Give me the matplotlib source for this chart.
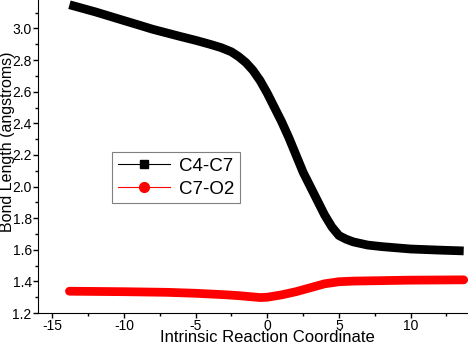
import matplotlib
matplotlib.use("Agg")
import matplotlib.pyplot as plt
from matplotlib.lines import Line2D
from matplotlib.ticker import MultipleLocator

plt.rcParams['font.family'] = ['Liberation Sans', 'DejaVu Sans']
plt.rcParams['axes.unicode_minus'] = False

# C4-C7 bond length along the IRC
irc_c4c7 = [-13.8, -12, -10, -8.9, -8, -6.1, -5, -4, -3.2, -2.5, -2.0, -1.5, -1.0,
            -0.5, 0, 0.5, 1, 1.5, 2, 2.5, 3, 3.5, 4, 4.5, 5, 5.5, 6, 7, 8, 10, 12, 13.7]
len_c4c7 = [3.15, 3.105, 3.05, 3.02, 2.995, 2.95, 2.925, 2.90, 2.878, 2.852, 2.822, 2.785, 2.735,
            2.67, 2.59, 2.50, 2.41, 2.31, 2.20, 2.09, 2.00, 1.91, 1.82, 1.745, 1.69, 1.667,
            1.65, 1.63, 1.62, 1.605, 1.598, 1.593]

# C7-O2 bond length along the IRC
irc_c7o2 = [-13.8, -10, -7, -5, -3, -2, -1, -0.5, 0, 1, 2, 3, 4, 5, 6, 8, 10, 13.7]
len_c7o2 = [1.338, 1.335, 1.331, 1.325, 1.316, 1.31, 1.302, 1.298, 1.30, 1.315, 1.335,
            1.36, 1.385, 1.398, 1.402, 1.405, 1.408, 1.41]

fig = plt.figure(figsize=(4.68, 3.44), dpi=100)
ax = fig.add_axes([0.081, 0.09, 0.919, 0.91])

ax.plot(irc_c4c7, len_c4c7, color='black', lw=6.3, solid_capstyle='butt',
        solid_joinstyle='round')
ax.plot(irc_c7o2, len_c7o2, color='red', lw=6.3, solid_capstyle='round')

ax.set_xlim(-16, 14)
ax.set_ylim(1.2, 3.18)
ax.xaxis.set_major_locator(MultipleLocator(5))
ax.xaxis.set_minor_locator(MultipleLocator(2.5))
ax.yaxis.set_major_locator(MultipleLocator(0.2))
ax.yaxis.set_minor_locator(MultipleLocator(0.1))
ax.tick_params(which='major', direction='out', length=3.5, width=1, labelsize=10, pad=1)
ax.tick_params(which='minor', direction='out', length=2, width=1)

for s in ['top', 'right']:
    ax.spines[s].set_visible(False)

ax.set_xlabel('Intrinsic Reaction Coordinate', fontsize=12)
ax.set_ylabel('Bond Length (angstroms)', fontsize=11.5)
ax.xaxis.set_label_coords(0.533, -0.055)
ax.yaxis.set_label_coords(-0.054, 0.548)

handles = [Line2D([], [], color='black', lw=0.8, marker='s', markersize=6),
           Line2D([], [], color='red', lw=0.8, marker='o', markersize=7)]
leg = ax.legend(handles, ['C4-C7', 'C7-O2'], loc='upper left',
                bbox_to_anchor=(0.172, 0.514), borderaxespad=0, fontsize=13.5,
                fancybox=False, framealpha=1, edgecolor='gray', handlelength=2.8,
                borderpad=0.3, labelspacing=0.3, handletextpad=0.5)
leg.get_frame().set_linewidth(0.8)

fig.savefig('out.png', dpi=100)
